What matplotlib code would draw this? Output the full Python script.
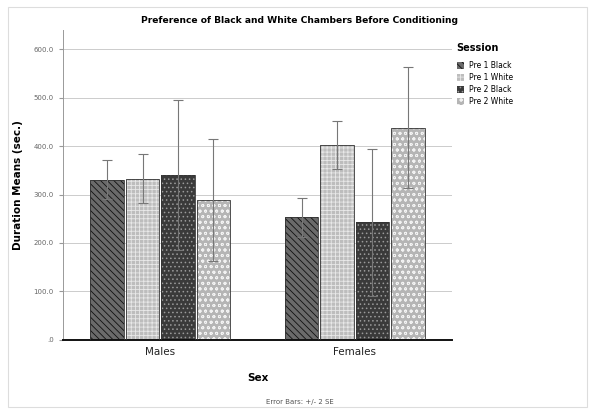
import numpy as np
import matplotlib.pyplot as plt
from matplotlib.patches import Rectangle, Patch

plt.rcParams['hatch.linewidth'] = 0.6

sexes = ["Males", "Females"]
sessions = ["Pre 1 Black", "Pre 1 White", "Pre 2 Black", "Pre 2 White"]
means = {
    "Pre 1 Black": [331, 253],
    "Pre 1 White": [333, 402],
    "Pre 2 Black": [341, 243],
    "Pre 2 White": [288, 438],
}
errs = {
    "Pre 1 Black": [41, 40],
    "Pre 1 White": [51, 50],
    "Pre 2 Black": [155, 152],
    "Pre 2 White": [126, 125],
}
yticks = [0, 100, 200, 300, 400, 500, 600]
ytick_labels = [".0", "100.0", "200.0", "300.0", "400.0", "500.0", "600.0"]

styles = {
    "Pre 1 Black": dict(facecolor="#6a6a6a", hatch="\\\\\\\\\\", edgecolor="#111111"),
    "Pre 1 White": dict(facecolor="#bdbdbd", hatch="++++", edgecolor="#e8e8e8"),
    "Pre 2 Black": dict(facecolor="#3a3a3a", hatch="....", edgecolor="#9a9a9a"),
    "Pre 2 White": dict(facecolor="#b5b5b5", hatch="ooo", edgecolor="#f2f2f2"),
}

fig = plt.figure(figsize=(5.94, 4.09), dpi=100)
ax = fig.add_axes([0.106, 0.169, 0.655, 0.758])

x = np.arange(len(sexes))
w = 0.172
offsets = [-1.5, -0.5, 0.5, 1.5]
for s, off in zip(sessions, offsets):
    st = styles[s]
    pos = x + off * (w + 0.01)
    ax.bar(pos, means[s], width=w, facecolor=st["facecolor"],
           hatch=st["hatch"], edgecolor=st["edgecolor"], linewidth=0, zorder=2)
    ax.bar(pos, means[s], width=w, facecolor="none",
           edgecolor="#333333", linewidth=0.6, zorder=3)
    ax.errorbar(pos, means[s], yerr=errs[s], fmt="none",
                ecolor="#777777", elinewidth=0.8, capsize=3.5, capthick=0.8, zorder=4)

ax.set_xlim(-0.5, 1.5)
ax.set_ylim(0, 640)
ax.set_yticks(yticks)
ax.set_yticklabels(ytick_labels, fontsize=5, color="#666666")
ax.set_xticks(x)
ax.set_xticklabels(sexes, fontsize=7.5, color="#222222")
ax.tick_params(axis="y", length=3, color="#999999")
ax.tick_params(axis="x", length=0, pad=5)
ax.yaxis.grid(True, color="#cccccc", linewidth=0.7, zorder=0)
ax.set_axisbelow(True)
for sp in ["top", "right"]:
    ax.spines[sp].set_visible(False)
ax.spines["left"].set_color("#999999")
ax.spines["left"].set_linewidth(0.7)
ax.spines["bottom"].set_color("#111111")
ax.spines["bottom"].set_linewidth(1.4)

ax.set_ylabel("Duration Means (sec.)", fontsize=7.5, fontweight="bold", labelpad=8)
ax.set_xlabel("Sex", fontsize=7.5, fontweight="bold", labelpad=12)
fig.text(0.505, 0.95, "Preference of Black and White Chambers Before Conditioning",
         ha="center", va="center", fontsize=6.6, fontweight="bold")
fig.text(0.505, 0.017, "Error Bars: +/- 2 SE", ha="center", va="center",
         fontsize=5, color="#555555")

handles = [Patch(facecolor=styles[s]["facecolor"], hatch=styles[s]["hatch"],
                 edgecolor=styles[s]["edgecolor"], linewidth=0) for s in sessions]
leg = fig.legend(handles, sessions, loc="upper left", bbox_to_anchor=(0.757, 0.912),
                 frameon=False, fontsize=5.5, handlelength=1.0, handleheight=1.1,
                 handletextpad=0.6, labelspacing=0.4, title="Session",
                 title_fontproperties={"size": 7, "weight": "bold"}, alignment="left")
leg._legend_box.sep = 6

fig.patches.append(Rectangle((0.014, 0.005), 0.975, 0.978, transform=fig.transFigure,
                             fill=False, edgecolor="#dddddd", linewidth=0.8))

fig.savefig("out.png", dpi=100)
